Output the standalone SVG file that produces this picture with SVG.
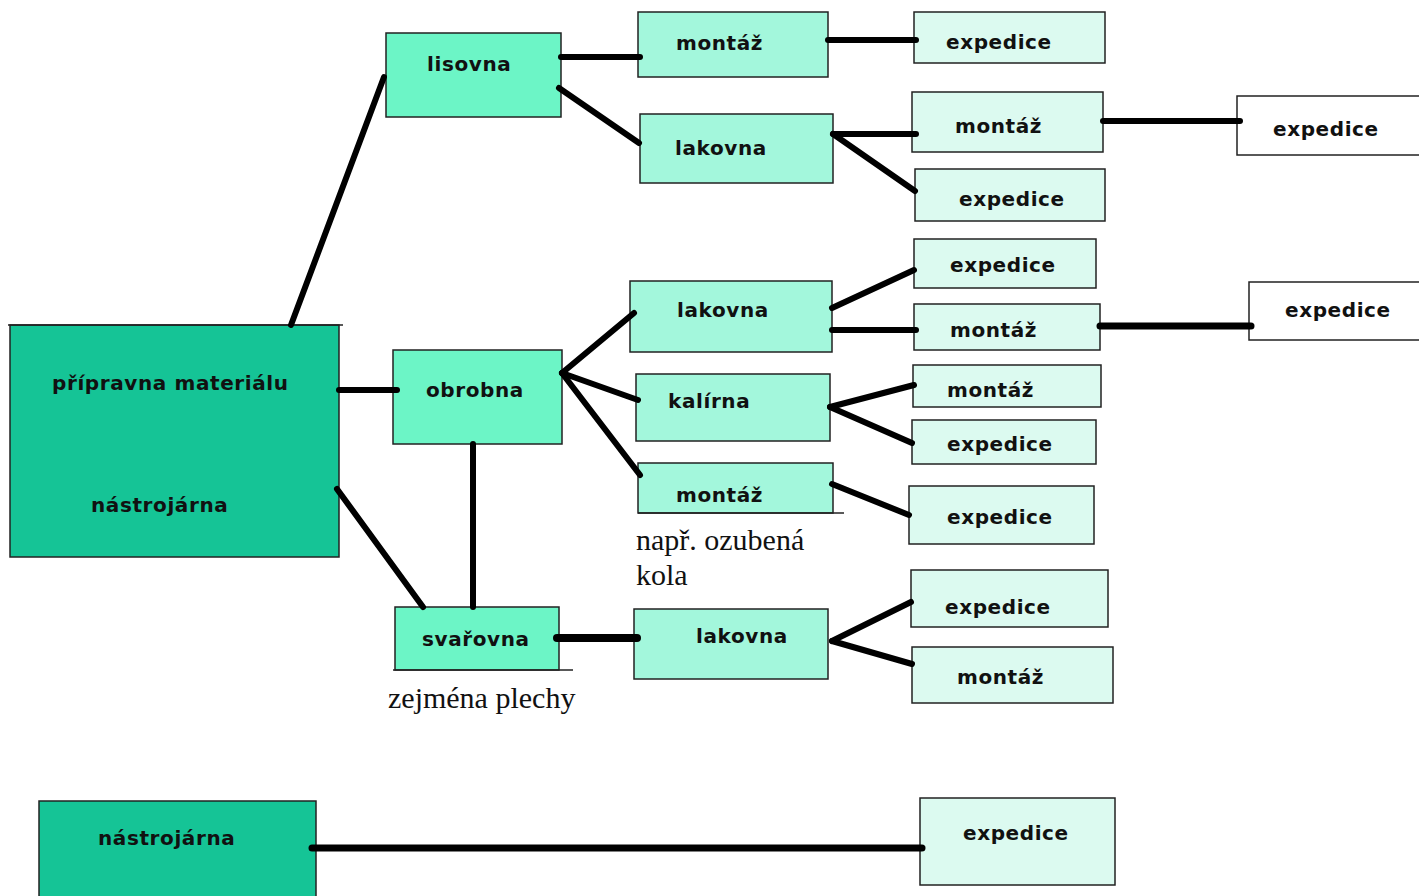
<svg xmlns="http://www.w3.org/2000/svg" width="1419" height="896" viewBox="0 0 1419 896">
<style>
.b{stroke:#222;stroke-width:1.5}
.c0{fill:#15c496}
.c1{fill:#6cf5c6}
.c2{fill:#a3f7dc}
.c3{fill:#dcfaf0}
.c4{fill:#ffffff}
.t{font-family:"DejaVu Sans",Verdana,sans-serif;font-weight:bold;font-size:20px;fill:#111;letter-spacing:0.6px}
.n{font-family:"Liberation Serif","Times New Roman",serif;font-size:30px;fill:#111}
.l{stroke:#000;stroke-width:6;stroke-linecap:round;fill:none}
</style>
<rect width="1419" height="896" fill="#fff"/>
<g id="pripravna">
<rect class="c0 b" x="10" y="325" width="329" height="232"/>
<line x1="8" y1="325" x2="343" y2="325" stroke="#222" stroke-width="1.5"/>
<text class="t" x="52" y="390">přípravna materiálu</text>
<text class="t" x="91" y="512">nástrojárna</text>
</g>
<g id="lisovna"><rect class="c1 b" x="386" y="33" width="175" height="84"/><text class="t" x="427" y="71">lisovna</text></g>
<g id="montaz1"><rect class="c2 b" x="638" y="12" width="190" height="65"/><text class="t" x="676" y="50">montáž</text></g>
<g id="expedice1"><rect class="c3 b" x="914" y="12" width="191" height="51"/><text class="t" x="946" y="49">expedice</text></g>
<g id="lakovna1"><rect class="c2 b" x="640" y="114" width="193" height="69"/><text class="t" x="675" y="155">lakovna</text></g>
<g id="montaz2"><rect class="c3 b" x="912" y="92" width="191" height="60"/><text class="t" x="955" y="133">montáž</text></g>
<g id="expedice2"><rect class="c3 b" x="915" y="169" width="190" height="52"/><text class="t" x="959" y="206">expedice</text></g>
<g id="expedice3"><rect class="c4 b" x="1237" y="96" width="185" height="59"/><text class="t" x="1273" y="136">expedice</text></g>
<g id="lakovna2"><rect class="c2 b" x="630" y="281" width="202" height="71"/><text class="t" x="677" y="317">lakovna</text></g>
<g id="expedice4"><rect class="c3 b" x="914" y="239" width="182" height="49"/><text class="t" x="950" y="272">expedice</text></g>
<g id="montaz3"><rect class="c3 b" x="914" y="304" width="186" height="46"/><text class="t" x="950" y="337">montáž</text></g>
<g id="expedice5"><rect class="c4 b" x="1249" y="282" width="173" height="58"/><text class="t" x="1285" y="317">expedice</text></g>
<g id="obrobna"><rect class="c1 b" x="393" y="350" width="169" height="94"/><text class="t" x="426" y="397">obrobna</text></g>
<g id="kalirna"><rect class="c2 b" x="636" y="374" width="194" height="67"/><text class="t" x="668" y="408">kalírna</text></g>
<g id="montaz4"><rect class="c2 b" x="638" y="463" width="195" height="50"/><line x1="638" y1="513" x2="844" y2="513" stroke="#222" stroke-width="1.5"/><text class="t" x="676" y="502">montáž</text></g>
<g id="montaz5"><rect class="c3 b" x="913" y="365" width="188" height="42"/><text class="t" x="947" y="397">montáž</text></g>
<g id="expedice6"><rect class="c3 b" x="912" y="420" width="184" height="44"/><text class="t" x="947" y="451">expedice</text></g>
<g id="expedice7"><rect class="c3 b" x="909" y="486" width="185" height="58"/><text class="t" x="947" y="524">expedice</text></g>
<g id="note1"><text class="n" x="636" y="550">např. ozubená</text><text class="n" x="636" y="585">kola</text></g>
<g id="svarovna"><rect class="c1 b" x="395" y="607" width="164" height="63"/><line x1="393" y1="670" x2="573" y2="670" stroke="#222" stroke-width="1.5"/><text class="t" x="422" y="646">svařovna</text></g>
<g id="note2"><text class="n" x="388" y="708">zejména plechy</text></g>
<g id="lakovna3"><rect class="c2 b" x="634" y="609" width="194" height="70"/><text class="t" x="696" y="643">lakovna</text></g>
<g id="expedice8"><rect class="c3 b" x="911" y="570" width="197" height="57"/><text class="t" x="945" y="614">expedice</text></g>
<g id="montaz6"><rect class="c3 b" x="912" y="647" width="201" height="56"/><text class="t" x="957" y="684">montáž</text></g>
<g id="nastrojarna"><rect class="c0 b" x="39" y="801" width="277" height="100"/><text class="t" x="98" y="845">nástrojárna</text></g>
<g id="expedice9"><rect class="c3 b" x="920" y="798" width="195" height="87"/><text class="t" x="963" y="840">expedice</text></g>
<g id="connectors">
<line class="l" x1="291" y1="325" x2="384" y2="77"/>
<line class="l" x1="339" y1="390" x2="397" y2="390"/>
<line class="l" x1="337" y1="489" x2="423" y2="607"/>
<line class="l" x1="561" y1="57" x2="640" y2="57"/>
<line class="l" x1="559" y1="88" x2="639" y2="143"/>
<line class="l" x1="828" y1="40" x2="916" y2="40"/>
<line class="l" x1="833" y1="134" x2="916" y2="134"/>
<line class="l" x1="833" y1="134" x2="915" y2="191"/>
<line class="l" x1="1103" y1="121" x2="1240" y2="121"/>
<line class="l" x1="562" y1="373" x2="634" y2="313"/>
<line class="l" x1="562" y1="373" x2="638" y2="400"/>
<line class="l" x1="562" y1="373" x2="640" y2="475"/>
<line class="l" x1="473" y1="444" x2="473" y2="607"/>
<line class="l" x1="832" y1="308" x2="914" y2="270"/>
<line class="l" x1="832" y1="330" x2="916" y2="330"/>
<line class="l" x1="1100" y1="326" x2="1251" y2="326" style="stroke-width:7"/>
<line class="l" x1="830" y1="407" x2="914" y2="385"/>
<line class="l" x1="830" y1="407" x2="912" y2="443"/>
<line class="l" x1="832" y1="484" x2="909" y2="515"/>
<line class="l" x1="557" y1="638" x2="637" y2="638" style="stroke-width:8"/>
<line class="l" x1="832" y1="641" x2="911" y2="602"/>
<line class="l" x1="832" y1="641" x2="912" y2="664"/>
<line class="l" x1="312" y1="848" x2="922" y2="848" style="stroke-width:7"/>
</g>
</svg>
